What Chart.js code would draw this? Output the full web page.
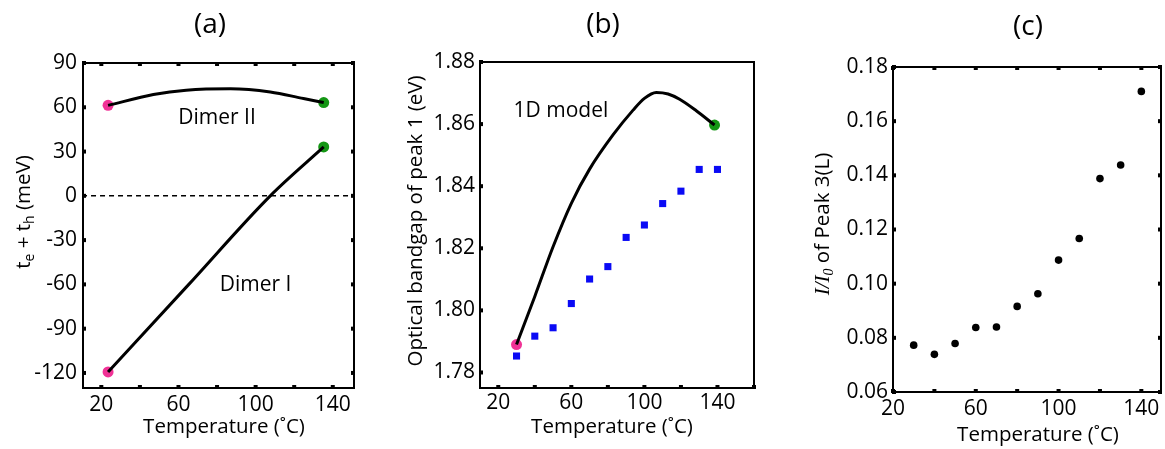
<!DOCTYPE html>
<html>
<head>
<meta charset="utf-8">
<script src="https://cdn.jsdelivr.net/npm/chart.js@4.4.1/dist/chart.umd.min.js"></script>
<style>
  body { margin: 0; background: #fff; }
  #wrap { position: relative; width: 1165px; height: 449px; overflow: hidden; }
  canvas { position: absolute; top: 0; }
</style>
</head>
<body>
<div id="wrap">
  <canvas id="pa" width="370" height="449" style="left:0px"></canvas>
  <canvas id="pb" width="395" height="449" style="left:375px"></canvas>
  <canvas id="pc" width="390" height="449" style="left:775px"></canvas>
</div>
<script>
// ---- panel (a) data
const aXLabels = [20, 60, 100, 140];
const aXMarks = [20, 40, 60, 80, 100, 120, 140];
const aYTicks = [-120, -90, -60, -30, 0, 30, 60, 90];
const dimer2T = [23.5, 47, 64, 87, 107.6, 124.8, 135.3];
const dimer2V = [61.3, 68.6, 71.6, 72.6, 70.4, 65.9, 63.2];
const dimer1T = [23.5, 65, 107.6, 135.3];
const dimer1V = [-119.3, -60.5, 0, 33.1];

// ---- panel (b) data
const bXLabels = [20, 60, 100, 140];
const bXMarks = [20, 40, 60, 80, 100, 120, 140, 160];
const bYTicks = [1.78, 1.80, 1.82, 1.84, 1.86, 1.88];
const measT = [30, 40, 50, 60, 70, 80, 90, 100, 110, 120, 130, 140];
const measGap = [1.7853, 1.7917, 1.7944, 1.8022, 1.8101, 1.8141, 1.8235, 1.8275, 1.8344, 1.8384, 1.8454, 1.8454];
const modelT = [30, 40, 50, 60, 70, 82.8, 93.8, 100, 106.5, 113, 119.3, 128.4, 138.4];
const modelGap = [1.789, 1.8045, 1.8205, 1.8345, 1.8455, 1.8565, 1.8645, 1.8683, 1.8702, 1.8697, 1.868, 1.8643, 1.8597];

// ---- panel (c) data
const cXLabels = [20, 60, 100, 140];
const cXMarks = [20, 40, 60, 80, 100, 120, 140];
const cYTicks = [0.06, 0.08, 0.10, 0.12, 0.14, 0.16, 0.18];
const ratioT = [30, 40, 50, 60, 70, 80, 90, 100, 110, 120, 130, 140];
const ratioV = [0.0773, 0.0739, 0.0779, 0.0838, 0.0840, 0.0916, 0.0963, 0.1087, 0.1167, 0.1388, 0.1438, 0.1710];

const FONT = "'Open Sans', 'Noto Sans', sans-serif";
const PINK = "rgb(240,50,150)";
const GREEN = "rgb(20,150,20)";
const BLUE = "rgb(10,10,245)";

function pts(xs, ys) {
    return xs.map((x, i) => ({ x: x, y: ys[i] }));
}

function drawSegs(ctx, segs, cx, cy, rotate) {
    ctx.save();
    ctx.translate(cx, cy);
    if (rotate) ctx.rotate(-Math.PI / 2);
    ctx.textBaseline = "alphabetic";
    ctx.textAlign = "left";
    ctx.fillStyle = "#000";
    let total = 0;
    segs.forEach(s => { ctx.font = s.font; s.w = ctx.measureText(s.t).width; total += s.w; });
    let x = -total / 2;
    segs.forEach(s => {
        ctx.font = s.font;
        ctx.fillText(s.t, x, 7 + (s.dy || 0));
        x += s.w;
    });
    ctx.restore();
}

const framePlugin = {
    id: "frame",
    afterDatasetsDraw(chart, args, o) {
        const ctx = chart.ctx;
        const a = chart.chartArea;
        const xs = chart.scales.x, ys = chart.scales.y;
        ctx.save();
        ctx.strokeStyle = "#000";
        ctx.lineWidth = 2;
        ctx.strokeRect(a.left, a.top, a.right - a.left, a.bottom - a.top);
        ctx.fillStyle = "#000";
        const s = 4;
        o.xMarks.forEach(v => {
            const px = xs.getPixelForValue(v);
            if (o.sides.includes("top")) ctx.fillRect(px - s / 2, a.top - 1, s, s);
            if (o.sides.includes("bottom")) ctx.fillRect(px - s / 2, a.bottom - s + 1, s, s);
        });
        o.yMarks.forEach(v => {
            const py = ys.getPixelForValue(v);
            if (o.sides.includes("left")) ctx.fillRect(a.left - 1, py - s / 2, s, s);
            if (o.sides.includes("right")) ctx.fillRect(a.right - s + 1, py - s / 2, s, s);
        });
        // notes placed in data coordinates
        ctx.font = "21px " + FONT;
        ctx.textAlign = "center";
        ctx.textBaseline = "middle";
        (o.notes || []).forEach(n => {
            ctx.fillText(n.text, xs.getPixelForValue(n.x), ys.getPixelForValue(n.y));
        });
        // panel label
        ctx.font = "28px " + FONT;
        ctx.fillText(o.label.text, o.label.x, o.label.y);
        // x title
        ctx.font = "20.5px " + FONT;
        ctx.fillText("Temperature (˚C)", o.xTitle.x, o.xTitle.y);
        ctx.restore();
        drawSegs(ctx, o.yTitle.segs, o.yTitle.x, o.yTitle.y, true);
    }
};

function makeChart(id, datasets, ax) {
    return new Chart(document.getElementById(id), {
        type: "scatter",
        data: { datasets: datasets },
        plugins: [framePlugin],
        options: {
            responsive: false,
            animation: false,
            layout: { padding: { top: ax.padTop, right: ax.padRight, left: 0, bottom: 0 } },
            plugins: {
                legend: { display: false },
                tooltip: { enabled: false },
                frame: ax.frame
            },
            scales: {
                x: {
                    type: "linear",
                    min: ax.xMin, max: ax.xMax,
                    grid: { display: false, drawTicks: false },
                    border: { display: false },
                    afterFit: s => { s.height = ax.xHeight; },
                    afterBuildTicks: s => { s.ticks = ax.xLabels.map(v => ({ value: v })); },
                    ticks: { padding: ax.xPad, color: "#000", font: { family: FONT, size: 21 }, maxRotation: 0 }
                },
                y: {
                    type: "linear",
                    min: ax.yMin, max: ax.yMax,
                    grid: { display: false, drawTicks: false },
                    border: { display: false },
                    afterFit: s => { s.width = ax.yWidth; },
                    afterBuildTicks: s => { s.ticks = ax.yTicks.map(v => ({ value: v })); },
                    ticks: { padding: ax.yPad, color: "#000", font: { family: FONT, size: 21 }, callback: ax.yFmt }
                }
            }
        }
    });
}

const sans21 = "20.5px " + FONT;
const sans14 = "14px " + FONT;

// (a)
makeChart("pa", [
    { data: pts([10, 151], [0, 0]), showLine: true, borderColor: "#000", borderWidth: 1.5, borderDash: [5, 4], pointRadius: 0 },
    { data: pts(dimer2T, dimer2V), showLine: true, borderColor: "#000", borderWidth: 3, pointRadius: 0, cubicInterpolationMode: "monotone" },
    { data: pts(dimer1T, dimer1V), showLine: true, borderColor: "#000", borderWidth: 3, pointRadius: 0, cubicInterpolationMode: "monotone" },
    { data: [{ x: dimer2T[0], y: dimer2V[0] }, { x: dimer1T[0], y: dimer1V[0] }], pointRadius: 5.5, pointBackgroundColor: PINK, pointBorderWidth: 0 },
    { data: [{ x: dimer2T[dimer2T.length - 1], y: dimer2V[dimer2V.length - 1] }, { x: dimer1T[dimer1T.length - 1], y: dimer1V[dimer1V.length - 1] }], pointRadius: 5.5, pointBackgroundColor: GREEN, pointBorderWidth: 0 }
], {
    xMin: 10.5, xMax: 151, yMin: -130.2, yMax: 90,
    xLabels: aXLabels, yTicks: aYTicks,
    padTop: 63, padRight: 16, xHeight: 61, yWidth: 83, xPad: 4, yPad: 6,
    yFmt: v => String(v),
    frame: {
        xMarks: aXMarks, yMarks: aYTicks, sides: ["top", "bottom", "left", "right"],
        notes: [{ text: "Dimer II", x: 80, y: 52.5 }, { text: "Dimer I", x: 100, y: -60.5 }],
        label: { text: "(a)", x: 210, y: 25 },
        xTitle: { x: 224, y: 427 },
        yTitle: { x: 23, y: 212, segs: [
            { t: "t", font: sans21 }, { t: "e", font: sans14, dy: 4 },
            { t: " + ", font: sans21 }, { t: "t", font: sans21 }, { t: "h", font: sans14, dy: 4 },
            { t: " (meV)", font: sans21 }
        ] }
    }
});

// (b)
makeChart("pb", [
    { data: pts(modelT, modelGap), showLine: true, borderColor: "#000", borderWidth: 3, pointRadius: 0, cubicInterpolationMode: "monotone" },
    { data: pts(measT, measGap), pointStyle: "rect", pointRadius: 5, pointBackgroundColor: BLUE, pointBorderWidth: 0 },
    { data: [{ x: modelT[0], y: modelGap[0] }], pointRadius: 5.5, pointBackgroundColor: PINK, pointBorderWidth: 0 },
    { data: [{ x: modelT[modelT.length - 1], y: modelGap[modelGap.length - 1] }], pointRadius: 5.5, pointBackgroundColor: GREEN, pointBorderWidth: 0 }
], {
    xMin: 10, xMax: 160, yMin: 1.775, yMax: 1.88,
    xLabels: bXLabels, yTicks: bYTicks,
    padTop: 62, padRight: 16, xHeight: 61, yWidth: 105, xPad: 2, yPad: 5,
    yFmt: v => v.toFixed(2),
    frame: {
        xMarks: bXMarks, yMarks: bYTicks, sides: ["left", "bottom"],
        notes: [{ text: "1D model", x: 54.3, y: 1.8642 }],
        label: { text: "(b)", x: 228, y: 25 },
        xTitle: { x: 237, y: 427 },
        yTitle: { x: 40, y: 221, segs: [{ t: "Optical bandgap of peak 1 (eV)", font: sans21 }] }
    }
});

// (c)
makeChart("pc", [
    { data: pts(ratioT, ratioV), pointRadius: 3.8, pointBackgroundColor: "#000", pointBorderWidth: 0 }
], {
    xMin: 20, xMax: 149.5, yMin: 0.06, yMax: 0.18,
    xLabels: cXLabels, yTicks: cYTicks,
    padTop: 67, padRight: 3, xHeight: 57, yWidth: 118, xPad: 4, yPad: 5,
    yFmt: v => v.toFixed(2),
    frame: {
        xMarks: cXMarks, yMarks: cYTicks, sides: ["top", "bottom", "left", "right"],
        label: { text: "(c)", x: 253, y: 27 },
        xTitle: { x: 263, y: 435 },
        yTitle: { x: 47, y: 224, segs: [
            { t: "I/I", font: "italic 21px 'Liberation Serif', serif" },
            { t: "0", font: "italic 14px 'Liberation Serif', serif", dy: 4 },
            { t: " of Peak 3(L)", font: sans21 }
        ] }
    }
});
</script>
</body>
</html>
